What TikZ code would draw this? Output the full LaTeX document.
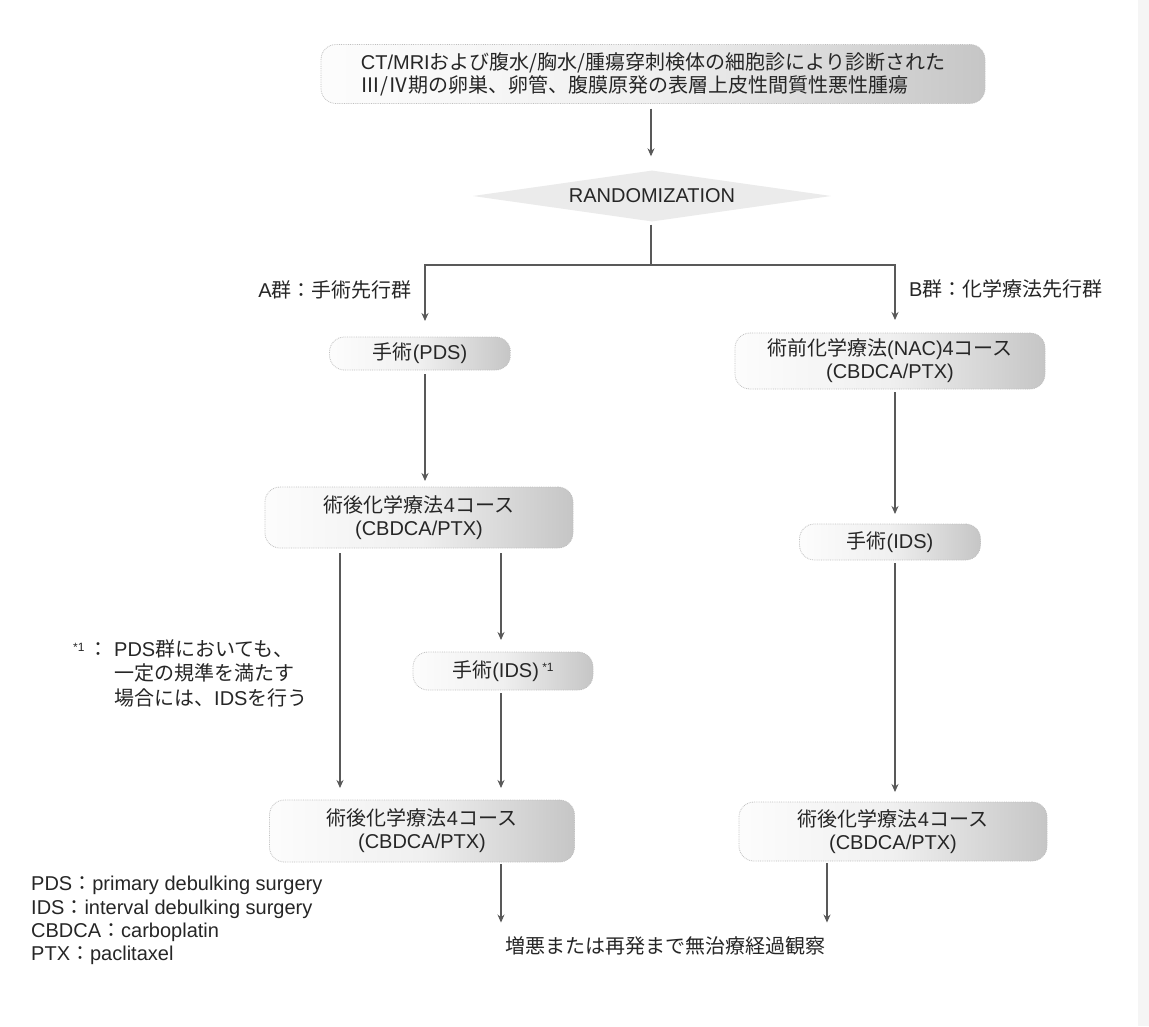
\documentclass[tikz,border=0pt]{standalone}
\usepackage{fontspec}
\setmainfont{Noto Sans CJK JP}
\newfontfamily\lat{Liberation Sans}
\newcommand{\ltn}[1]{{\lat #1}}
\usetikzlibrary{shapes.geometric,arrows.meta,calc}
\begin{document}
\begin{tikzpicture}[x=1pt,y=-1pt,
  every node/.style={text=black!85, font=\fontsize{20}{23}\selectfont},
  box/.style={rounded corners=15pt, draw=gray!50, line width=0.8pt, densely dotted,
    left color=gray!2, right color=gray!45, middle color=gray!12,
    inner sep=0pt, outer sep=0pt, align=center},
  line/.style={draw=gray!70!black, line width=1.1pt},
  arr/.style={line, -{Stealth[length=8pt,width=7pt]}}
]
\useasboundingbox (0,0) rectangle (1149,1026);
\fill[white] (0,0) rectangle (1149,1026);
\fill[gray!8] (1138,0) rectangle (1149,1026);

% nodes
\node[box, minimum width=664, minimum height=59, align=left] (top) at (653,74)
  {\ltn{CT/MRI}および腹水/胸水/腫瘍穿刺検体の細胞診により診断された\\Ⅲ/Ⅳ期の卵巣、卵管、腹膜原発の表層上皮性間質性悪性腫瘍};
\node[diamond, fill=gray!16, aspect=7, minimum width=358, minimum height=51, inner sep=0pt] (rand) at (652,196)
  {\ltn{RANDOMIZATION}};
\node[anchor=east, inner sep=0pt] (la) at (412,290) {\ltn{A}群：手術先行群};
\node[anchor=west, inner sep=0pt] (lb) at (909,289) {\ltn{B}群：化学療法先行群};

\node[box, minimum width=181, minimum height=33] (pds) at (420,353.5) {手術\ltn{(PDS)}};
\node[box, minimum width=310, minimum height=56] (nac) at (890,361)
  {術前化学療法\ltn{(NAC)4}コース\\\ltn{(CBDCA/PTX)}};
\node[box, minimum width=308, minimum height=61] (post1) at (419,517.5)
  {術後化学療法\ltn{4}コース\\\ltn{(CBDCA/PTX)}};
\node[box, minimum width=180, minimum height=38] (ids1) at (503,671)
  {手術\ltn{(IDS)}\,\raisebox{6pt}{\fontsize{12}{12}\selectfont\ltn{*1}}};
\node[box, minimum width=181, minimum height=36] (idsB) at (890,542) {手術\ltn{(IDS)}};
\node[box, minimum width=305, minimum height=62] (post2) at (422,831)
  {術後化学療法\ltn{4}コース\\\ltn{(CBDCA/PTX)}};
\node[box, minimum width=308, minimum height=59] (postB) at (893,831.5)
  {術後化学療法\ltn{4}コース\\\ltn{(CBDCA/PTX)}};
\node[inner sep=2pt] (fin) at (665.5,946) {増悪または再発まで無治療経過観察};

\node[anchor=north west, align=left, inner sep=0pt, font=\fontsize{20}{24.5}\selectfont] (note) at (73,639)
  {\makebox[41pt][l]{\raisebox{5pt}{\fontsize{12}{12}\selectfont\ltn{*1}}\hspace{4pt}：}\ltn{PDS}群においても、\\
   \hspace*{41pt}一定の規準を満たす\\
   \hspace*{41pt}場合には、\ltn{IDS}を行う};

\node[anchor=north west, align=left, inner sep=0pt, font=\fontsize{20}{23.3}\selectfont] (legend) at (31,876)
  {\ltn{PDS}：\ltn{primary debulking surgery}\\
   \ltn{IDS}：\ltn{interval debulking surgery}\\
   \ltn{CBDCA}：\ltn{carboplatin}\\
   \ltn{PTX}：\ltn{paclitaxel}};

% column coordinates
\coordinate (xT) at (651,0);
\coordinate (xA) at (425,0);
\coordinate (xB) at (895,0);
\coordinate (xL) at (340,0);
\coordinate (xM) at (501,0);
\coordinate (xR) at (827,0);
\coordinate (split) at (651,265);

% connectors
\draw[arr, shorten <=5pt, shorten >=14pt] (top.south -| xT) -- (rand.north -| xT);
\draw[line, shorten <=3pt] (rand.south -| xT) -- (split);
\draw[arr, shorten >=16pt] (split) -| (pds.north -| xA);
\draw[arr, shorten >=13pt] (split) -| (nac.north -| xB);
\draw[arr, shorten <=4pt, shorten >=6pt] (pds.south -| xA) -- (post1.north -| xA);
\draw[arr, shorten <=5pt, shorten >=12pt] (post1.south -| xL) -- (post2.north -| xL);
\draw[arr, shorten <=5pt, shorten >=12pt] (post1.south -| xM) -- (ids1.north -| xM);
\draw[arr, shorten <=3pt, shorten >=12pt] (ids1.south -| xM) -- (post2.north -| xM);
\draw[arr, shorten <=3pt, shorten >=10pt] (nac.south -| xB) -- (idsB.north -| xB);
\draw[arr, shorten <=3pt, shorten >=10pt] (idsB.south -| xB) -- (postB.north -| xB);
\draw[arr, shorten <=2pt, shorten >=12pt] (post2.south -| xM) -- (fin.north -| xM);
\draw[arr, shorten <=2pt, shorten >=12pt] (postB.south -| xR) -- (fin.north -| xR);
\end{tikzpicture}
\end{document}
